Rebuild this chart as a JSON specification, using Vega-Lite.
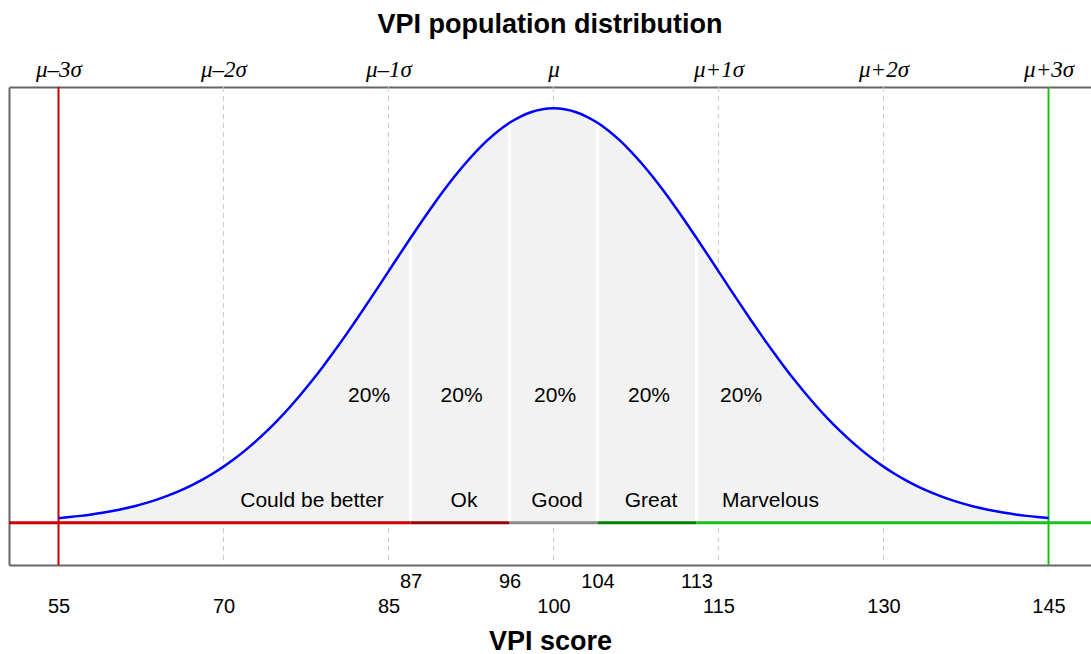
{
  "$schema": "https://vega.github.io/schema/vega-lite/v6.json",
  "width": 1082,
  "height": 478,
  "autosize": {"type": "none"},
  "padding": {"left": 9, "top": 87, "right": 0, "bottom": 89},
  "background": "white",
  "config": {
    "view": {"stroke": null},
    "axis": {"labelOverlap": false, "labelBound": false, "labelFlush": false}
  },
  "title": {
    "text": "VPI population distribution",
    "font": "Liberation Sans",
    "fontSize": 27,
    "fontWeight": "bold",
    "color": "black",
    "anchor": "middle",
    "frame": "group",
    "offset": 19
  },
  "datasets": {
    "curve": [
      {"x": 55, "y": 0.01111}, {"x": 56, "y": 0.01354}, {"x": 57, "y": 0.01643}, {"x": 58, "y": 0.01984},
      {"x": 59, "y": 0.02386}, {"x": 60, "y": 0.02857}, {"x": 61, "y": 0.03405}, {"x": 62, "y": 0.0404},
      {"x": 63, "y": 0.04773}, {"x": 64, "y": 0.05614}, {"x": 65, "y": 0.06573}, {"x": 66, "y": 0.07662},
      {"x": 67, "y": 0.08892}, {"x": 68, "y": 0.10274}, {"x": 69, "y": 0.11818}, {"x": 70, "y": 0.13534},
      {"x": 71, "y": 0.15431}, {"x": 72, "y": 0.17513}, {"x": 73, "y": 0.1979}, {"x": 74, "y": 0.22264},
      {"x": 75, "y": 0.24935}, {"x": 76, "y": 0.27804}, {"x": 77, "y": 0.30865}, {"x": 78, "y": 0.34111},
      {"x": 79, "y": 0.37531}, {"x": 80, "y": 0.41111}, {"x": 81, "y": 0.44833}, {"x": 82, "y": 0.48675},
      {"x": 83, "y": 0.52612}, {"x": 84, "y": 0.56614}, {"x": 85, "y": 0.60653}, {"x": 86, "y": 0.64692},
      {"x": 87, "y": 0.68691}, {"x": 88, "y": 0.72615}, {"x": 89, "y": 0.76423}, {"x": 90, "y": 0.80074},
      {"x": 91, "y": 0.83527}, {"x": 92, "y": 0.86743}, {"x": 93, "y": 0.89683}, {"x": 94, "y": 0.92312},
      {"x": 95, "y": 0.94596}, {"x": 96, "y": 0.96507}, {"x": 97, "y": 0.9802}, {"x": 98, "y": 0.99115},
      {"x": 99, "y": 0.99778}, {"x": 100, "y": 1.0}, {"x": 101, "y": 0.99778}, {"x": 102, "y": 0.99115},
      {"x": 103, "y": 0.9802}, {"x": 104, "y": 0.96507}, {"x": 105, "y": 0.94596}, {"x": 106, "y": 0.92312},
      {"x": 107, "y": 0.89683}, {"x": 108, "y": 0.86743}, {"x": 109, "y": 0.83527}, {"x": 110, "y": 0.80074},
      {"x": 111, "y": 0.76423}, {"x": 112, "y": 0.72615}, {"x": 113, "y": 0.68691}, {"x": 114, "y": 0.64692},
      {"x": 115, "y": 0.60653}, {"x": 116, "y": 0.56614}, {"x": 117, "y": 0.52612}, {"x": 118, "y": 0.48675},
      {"x": 119, "y": 0.44833}, {"x": 120, "y": 0.41111}, {"x": 121, "y": 0.37531}, {"x": 122, "y": 0.34111},
      {"x": 123, "y": 0.30865}, {"x": 124, "y": 0.27804}, {"x": 125, "y": 0.24935}, {"x": 126, "y": 0.22264},
      {"x": 127, "y": 0.1979}, {"x": 128, "y": 0.17513}, {"x": 129, "y": 0.15431}, {"x": 130, "y": 0.13534},
      {"x": 131, "y": 0.11818}, {"x": 132, "y": 0.10274}, {"x": 133, "y": 0.08892}, {"x": 134, "y": 0.07662},
      {"x": 135, "y": 0.06573}, {"x": 136, "y": 0.05614}, {"x": 137, "y": 0.04773}, {"x": 138, "y": 0.0404},
      {"x": 139, "y": 0.03405}, {"x": 140, "y": 0.02857}, {"x": 141, "y": 0.02386}, {"x": 142, "y": 0.01984},
      {"x": 143, "y": 0.01643}, {"x": 144, "y": 0.01354}, {"x": 145, "y": 0.01111}
    ],
    "grid": [{"x": 70}, {"x": 85}, {"x": 100}, {"x": 115}, {"x": 130}],
    "bounds": [
      {"x": 87, "top": 0.68691}, {"x": 96, "top": 0.96507},
      {"x": 104, "top": 0.96507}, {"x": 113, "top": 0.68691}
    ],
    "segments": [
      {"x": 50.5, "x2": 87, "col": "a"},
      {"x": 87, "x2": 96, "col": "b"},
      {"x": 96, "x2": 104, "col": "c"},
      {"x": 104, "x2": 113, "col": "d"},
      {"x": 113, "x2": 148.86, "col": "e"}
    ],
    "vlines": [{"x": 55, "col": "a"}, {"x": 145, "col": "e"}],
    "labels": [
      {"x": 83.23, "y": 0.2905, "label": "20%"},
      {"x": 91.64, "y": 0.2905, "label": "20%"},
      {"x": 100.14, "y": 0.2905, "label": "20%"},
      {"x": 108.68, "y": 0.2905, "label": "20%"},
      {"x": 117.05, "y": 0.2905, "label": "20%"},
      {"x": 78.05, "y": 0.0372, "label": "Could be better"},
      {"x": 91.86, "y": 0.0372, "label": "Ok"},
      {"x": 100.32, "y": 0.0372, "label": "Good"},
      {"x": 108.86, "y": 0.0372, "label": "Great"},
      {"x": 119.73, "y": 0.0372, "label": "Marvelous"}
    ]
  },
  "resolve": {"axis": {"x": "independent"}},
  "layer": [
    {
      "data": {"name": "grid"},
      "mark": {"type": "rule", "color": "#cccccc", "strokeWidth": 1, "strokeDash": [5, 4]},
      "encoding": {
        "x": {
          "field": "x", "type": "quantitative",
          "scale": {"domain": [50.5, 148.86], "nice": false, "zero": false},
          "axis": {
            "orient": "bottom",
            "values": [55, 70, 85, 100, 115, 130, 145],
            "ticks": false, "tickSize": 0, "grid": false,
            "domain": true, "domainColor": "#666666", "domainWidth": 2,
            "labelPadding": 31, "labelFont": "Liberation Sans", "labelFontSize": 20, "labelColor": "black",
            "title": "VPI score", "titleFont": "Liberation Sans", "titleFontSize": 27, "titleFontWeight": "bold",
            "titleColor": "black", "titlePadding": 12
          }
        }
      }
    },
    {
      "data": {"name": "curve"},
      "mark": {"type": "area", "color": "#f2f2f2", "interpolate": "monotone"},
      "encoding": {
        "x": {
          "field": "x", "type": "quantitative",
          "scale": {"domain": [50.5, 148.86], "nice": false, "zero": false},
          "axis": {
            "orient": "top",
            "values": [55, 70, 85, 100, 115, 130, 145],
            "labelExpr": "datum.value == 55 ? 'μ–3σ' : datum.value == 70 ? 'μ–2σ' : datum.value == 85 ? 'μ–1σ' : datum.value == 100 ? 'μ' : datum.value == 115 ? 'μ+1σ' : datum.value == 130 ? 'μ+2σ' : 'μ+3σ'",
            "ticks": false, "tickSize": 0, "grid": false,
            "domain": true, "domainColor": "#666666", "domainWidth": 2,
            "labelPadding": 6, "labelFont": "Liberation Serif", "labelFontStyle": "italic", "labelFontSize": 23, "labelColor": "black",
            "title": null
          }
        },
        "y": {
          "field": "y", "type": "quantitative", "title": null,
          "scale": {"domain": [-0.1021, 1.0514], "nice": false, "zero": false},
          "axis": {"labels": false, "ticks": false, "grid": false, "domain": true, "domainColor": "#666666", "domainWidth": 2, "title": null}
        },
        "y2": {"datum": 0}
      }
    },
    {
      "data": {"name": "bounds"},
      "mark": {"type": "rule", "color": "white", "strokeWidth": 3},
      "encoding": {
        "x": {
          "field": "x", "type": "quantitative",
          "scale": {"domain": [50.5, 148.86], "nice": false, "zero": false},
          "axis": {
            "orient": "bottom",
            "values": [87, 96, 104, 113],
            "ticks": false, "tickSize": 0, "grid": false, "domain": false,
            "labelPadding": 6, "labelFont": "Liberation Sans", "labelFontSize": 20, "labelColor": "black",
            "title": null
          }
        },
        "y": {
          "field": "top", "type": "quantitative", "title": null,
          "scale": {"domain": [-0.1021, 1.0514], "nice": false, "zero": false},
          "axis": {"labels": false, "ticks": false, "grid": false, "domain": true, "domainColor": "#666666", "domainWidth": 2, "title": null}
        },
        "y2": {"datum": 0}
      }
    },
    {
      "data": {"name": "segments"},
      "mark": {"type": "rule", "strokeWidth": 3},
      "encoding": {
        "x": {"field": "x", "type": "quantitative", "scale": {"domain": [50.5, 148.86], "nice": false, "zero": false}, "axis": null},
        "x2": {"field": "x2"},
        "y": {
          "datum": 0, "type": "quantitative", "title": null,
          "scale": {"domain": [-0.1021, 1.0514], "nice": false, "zero": false},
          "axis": {"labels": false, "ticks": false, "grid": false, "domain": true, "domainColor": "#666666", "domainWidth": 2, "title": null}
        },
        "color": {
          "field": "col", "type": "nominal", "legend": null,
          "scale": {"domain": ["a", "b", "c", "d", "e"], "range": ["#cc0000", "#990000", "#888888", "#007f00", "#1cc01c"]}
        }
      }
    },
    {
      "data": {"name": "vlines"},
      "mark": {"type": "rule", "strokeWidth": 2},
      "encoding": {
        "x": {"field": "x", "type": "quantitative", "scale": {"domain": [50.5, 148.86], "nice": false, "zero": false}, "axis": null},
        "color": {
          "field": "col", "type": "nominal", "legend": null,
          "scale": {"domain": ["a", "b", "c", "d", "e"], "range": ["#cc0000", "#990000", "#888888", "#007f00", "#1cc01c"]}
        }
      }
    },
    {
      "data": {"name": "curve"},
      "mark": {"type": "line", "color": "#0000ff", "strokeWidth": 2.5, "interpolate": "monotone"},
      "encoding": {
        "x": {"field": "x", "type": "quantitative", "scale": {"domain": [50.5, 148.86], "nice": false, "zero": false}, "axis": null},
        "y": {
          "field": "y", "type": "quantitative", "title": null,
          "scale": {"domain": [-0.1021, 1.0514], "nice": false, "zero": false},
          "axis": {"labels": false, "ticks": false, "grid": false, "domain": true, "domainColor": "#666666", "domainWidth": 2, "title": null}
        }
      }
    },
    {
      "data": {"name": "labels"},
      "mark": {"type": "text", "font": "Liberation Sans", "fontSize": 21, "color": "black", "align": "center", "baseline": "alphabetic"},
      "encoding": {
        "x": {"field": "x", "type": "quantitative", "scale": {"domain": [50.5, 148.86], "nice": false, "zero": false}, "axis": null},
        "y": {
          "field": "y", "type": "quantitative", "title": null,
          "scale": {"domain": [-0.1021, 1.0514], "nice": false, "zero": false},
          "axis": {"labels": false, "ticks": false, "grid": false, "domain": true, "domainColor": "#666666", "domainWidth": 2, "title": null}
        },
        "text": {"field": "label", "type": "nominal"}
      }
    }
  ]
}
